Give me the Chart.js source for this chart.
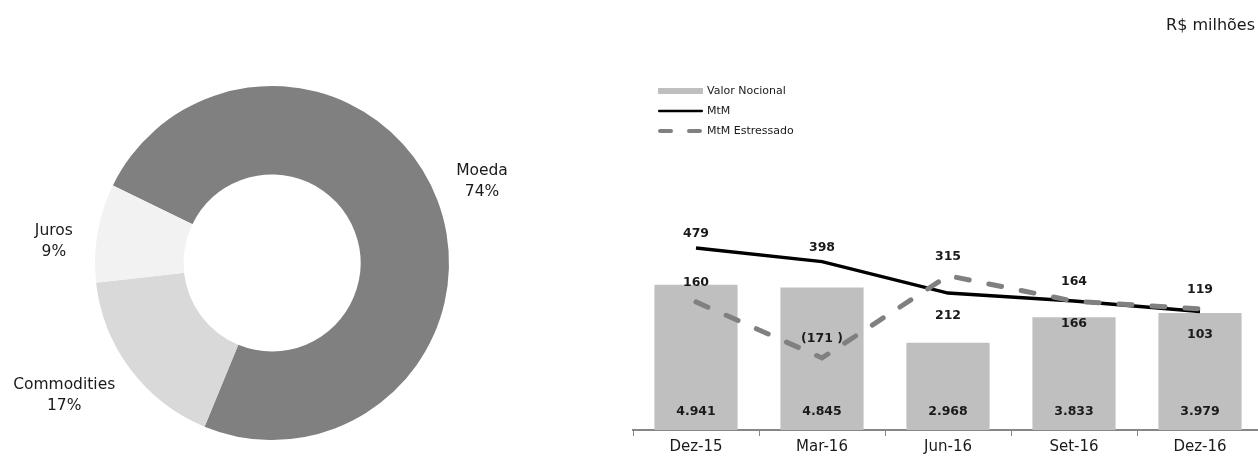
<!DOCTYPE html>
<html>
<head>
<meta charset="utf-8">
<script src="https://cdn.jsdelivr.net/npm/chart.js@4.4.1/dist/chart.umd.min.js"></script>
<style>
  html, body { margin: 0; padding: 0; background: #fff; overflow: hidden; width: 1258px; height: 459px; position: relative; }
  #pie-wrap { position: absolute; left: 0; top: 0; width: 560px; height: 459px; }
  #combo-wrap { position: absolute; left: 590px; top: 0; width: 673px; height: 459px; }
  #unit { position: absolute; right: 3px; top: 15px; font: 16px 'DejaVu Sans', sans-serif; color: #1a1a1a; }
</style>
</head>
<body>
<div id="pie-wrap"><canvas id="pie"></canvas></div>
<div id="combo-wrap"><canvas id="combo"></canvas></div>
<div id="unit">R$ milhões</div>
<script>
const RISK_LABELS = ['Moeda', 'Commodities', 'Juros'];
const RISK_SHARE = [74, 17, 9];
const RISK_COLORS = ['#808080', '#d9d9d9', '#f2f2f2'];

const PERIODS = ['Dez-15', 'Mar-16', 'Jun-16', 'Set-16', 'Dez-16'];
const NOTIONAL = [4941, 4845, 2968, 3833, 3979];
const MTM = [479, 398, 212, 166, 103];
const MTM_STRESS = [160, -171, 315, 164, 119];

// where the MtM value sits relative to its point
const MTM_LABEL_SIDE = ['above', 'above', 'below', 'below', 'below'];
// small hand nudges for the slice labels, like the ones moved in the original
const SLICE_LABEL_NUDGE = [[0, -2], [-11, -16], [-6, 15]];

const FONT = "'DejaVu Sans', sans-serif";
const TEXT = '#1a1a1a';

function fmt(v) {
  const s = String(Math.abs(v)).replace(/\B(?=(\d{3})+(?!\d))/g, '.');
  return v < 0 ? `(${s} )` : s;
}

const sliceLabels = {
  id: 'sliceLabels',
  afterDatasetsDraw(chart, args, opts) {
    const { ctx } = chart;
    const meta = chart.getDatasetMeta(0);
    ctx.save();
    ctx.font = opts.font;
    ctx.fillStyle = opts.color;
    ctx.textAlign = 'center';
    ctx.textBaseline = 'middle';
    meta.data.forEach((arc, i) => {
      const { x, y, startAngle, endAngle, outerRadius } = arc.getProps(['x', 'y', 'startAngle', 'endAngle', 'outerRadius'], true);
      const mid = (startAngle + endAngle) / 2;
      const ux = Math.cos(mid);
      const uy = Math.sin(mid);
      const lines = [chart.data.labels[i], chart.data.datasets[0].data[i] + '%'];
      const w = Math.max(...lines.map((t) => ctx.measureText(t).width));
      const h = lines.length * opts.lineHeight;
      const d = outerRadius + opts.gap + Math.abs(ux) * w / 2 + Math.abs(uy) * h / 2;
      const nudge = (opts.nudge && opts.nudge[i]) || [0, 0];
      const cx = x + ux * d + nudge[0];
      const cy = y + uy * d + nudge[1];
      lines.forEach((t, k) => ctx.fillText(t, cx, cy + (k - (lines.length - 1) / 2) * opts.lineHeight));
    });
    ctx.restore();
  }
};

const valueLabels = {
  id: 'valueLabels',
  afterDatasetsDraw(chart, args, opts) {
    const { ctx } = chart;
    ctx.save();
    ctx.font = opts.font;
    ctx.fillStyle = opts.color;
    ctx.textAlign = 'center';
    ctx.textBaseline = 'middle';
    chart.data.datasets.forEach((ds, di) => {
      const meta = chart.getDatasetMeta(di);
      meta.data.forEach((el, i) => {
        let y;
        if (ds.type === 'bar') {
          y = el.base - opts.barInset;
        } else {
          const side = ds.labelSide ? ds.labelSide[i] : 'above';
          y = side === 'below' ? el.y + ds.labelBelow : el.y - ds.labelAbove;
        }
        ctx.fillText(fmt(ds.data[i]), el.x, y);
      });
    });
    ctx.restore();
  }
};

const sideLegend = {
  id: 'sideLegend',
  afterDraw(chart, args, opts) {
    const { ctx, chartArea } = chart;
    const x = chartArea.left + opts.left;
    ctx.save();
    ctx.font = opts.font;
    ctx.textAlign = 'left';
    ctx.textBaseline = 'middle';
    chart.data.datasets.forEach((ds, i) => {
      const y = chartArea.top + opts.top + i * opts.step;
      if (ds.type === 'bar') {
        ctx.fillStyle = ds.backgroundColor;
        ctx.fillRect(x, y - 3, opts.swatch, 6);
      } else {
        const lw = ds.legendWidth || ds.borderWidth;
        ctx.strokeStyle = ds.borderColor;
        ctx.lineWidth = lw;
        ctx.lineCap = 'round';
        ctx.setLineDash(ds.legendDash || []);
        ctx.beginPath();
        ctx.moveTo(x + lw / 2, y);
        ctx.lineTo(x + opts.swatch - lw / 2, y);
        ctx.stroke();
        ctx.setLineDash([]);
      }
      ctx.fillStyle = opts.color;
      ctx.fillText(ds.label, x + opts.swatch + opts.textGap, y);
    });
    ctx.restore();
  }
};

new Chart(document.getElementById('pie'), {
  type: 'doughnut',
  data: {
    labels: RISK_LABELS,
    datasets: [{
      data: RISK_SHARE,
      backgroundColor: RISK_COLORS,
      borderWidth: 0,
      hoverOffset: 0
    }]
  },
  options: {
    responsive: true,
    maintainAspectRatio: false,
    animation: false,
    cutout: '50%',
    rotation: -64,
    layout: { padding: { left: 95, top: 86, right: 111, bottom: 19 } },
    plugins: {
      legend: { display: false },
      tooltip: { enabled: false },
      sliceLabels: { font: `15.5px ${FONT}`, color: TEXT, lineHeight: 21, gap: 16, nudge: SLICE_LABEL_NUDGE }
    }
  },
  plugins: [sliceLabels]
});

new Chart(document.getElementById('combo'), {
  type: 'bar',
  data: {
    labels: PERIODS,
    datasets: [
      {
        type: 'bar',
        label: 'Valor Nocional',
        data: NOTIONAL,
        backgroundColor: '#bfbfbf',
        barPercentage: 0.66,
        categoryPercentage: 1,
        yAxisID: 'y',
        order: 3
      },
      {
        type: 'line',
        label: 'MtM',
        data: MTM,
        borderColor: '#000000',
        borderWidth: 3.5,
        legendWidth: 2.5,
        pointRadius: 0,
        tension: 0,
        yAxisID: 'y2',
        order: 2,
        labelSide: MTM_LABEL_SIDE,
        labelAbove: 14,
        labelBelow: 23
      },
      {
        type: 'line',
        label: 'MtM Estressado',
        data: MTM_STRESS,
        borderColor: '#808080',
        borderWidth: 5,
        borderDash: [13, 20],
        borderCapStyle: 'round',
        legendWidth: 4,
        legendDash: [11, 18],
        pointRadius: 0,
        tension: 0,
        yAxisID: 'y2',
        order: 1,
        labelAbove: 19,
        labelBelow: 19
      }
    ]
  },
  options: {
    responsive: true,
    maintainAspectRatio: false,
    animation: false,
    layout: { padding: { top: 77, left: 43, right: 0, bottom: 0 } },
    scales: {
      x: {
        grid: { offset: true, drawOnChartArea: false, drawTicks: true, tickLength: 6, color: '#868686', lineWidth: 1 },
        border: { color: '#868686', width: 2 },
        ticks: { color: TEXT, font: { family: FONT, size: 15 }, padding: 2, maxRotation: 0 },
        afterFit(scale) { scale.height = 29; }
      },
      y: { display: false, min: 0, max: 12007 },
      y2: { display: false, min: -597, max: 1489 }
    },
    plugins: {
      legend: { display: false },
      tooltip: { enabled: false },
      valueLabels: { font: `bold 12.5px ${FONT}`, color: TEXT, barInset: 18 },
      sideLegend: { font: `11px ${FONT}`, color: TEXT, left: 25, top: 14, step: 20, swatch: 45, textGap: 4 }
    }
  },
  plugins: [valueLabels, sideLegend]
});
</script>
</body>
</html>
